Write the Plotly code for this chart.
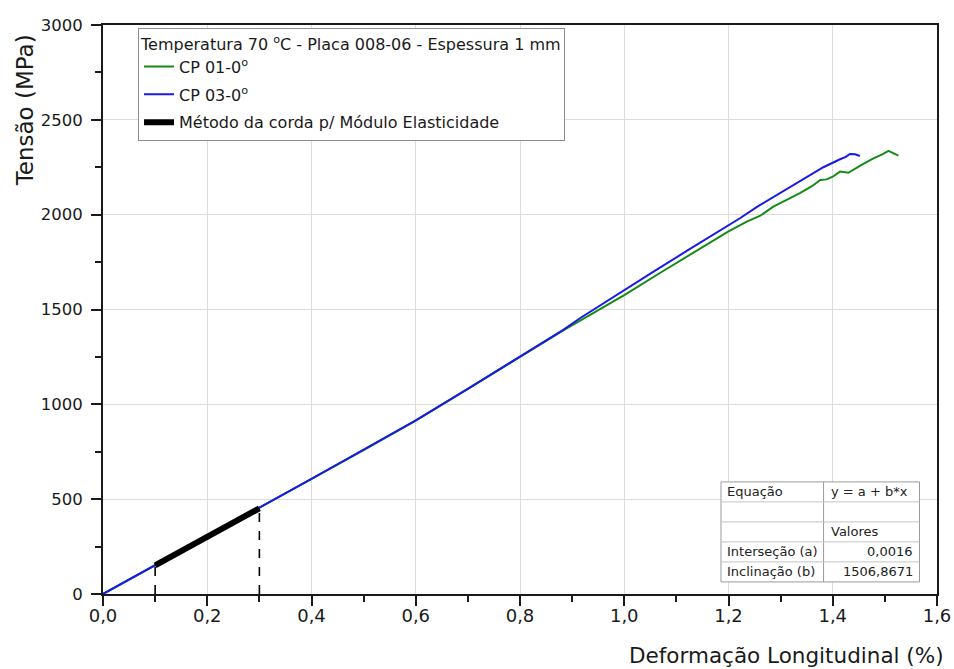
import plotly.graph_objects as go

# Stress-strain curves, 70 °C, plate 008-06, 1 mm thickness
cp01_strain = [0, 0.1, 0.2, 0.3, 0.4, 0.5, 0.6, 0.7, 0.8, 0.883, 0.95, 1.0, 1.07, 1.142,
               1.2, 1.235, 1.26, 1.286, 1.312, 1.337, 1.36, 1.376, 1.388, 1.40, 1.414,
               1.43, 1.452, 1.478, 1.495, 1.507, 1.526]
cp01_stress = [0, 151, 302, 454, 606, 759, 914, 1080, 1250, 1390, 1495, 1576, 1695, 1814,
               1912, 1963, 1993, 2042, 2077, 2113, 2150, 2183, 2186, 2200, 2227,
               2221, 2257, 2297, 2318, 2336, 2311]

cp03_strain = [0, 0.1, 0.2, 0.3, 0.4, 0.5, 0.6, 0.7, 0.8, 0.883, 0.915, 1.0, 1.06, 1.123,
               1.18, 1.222, 1.254, 1.286, 1.318, 1.35, 1.382, 1.414, 1.425, 1.433, 1.443,
               1.452]
cp03_stress = [0, 151, 302, 455, 607, 761, 916, 1082, 1252, 1393, 1454, 1599, 1706, 1814,
               1910, 1981, 2040, 2092, 2148, 2200, 2250, 2292, 2305, 2320, 2318,
               2309]

# Chord method for the elastic modulus: fit y = a + b*x between these strains
chord_strain = [0.1, 0.3]
fit_a = 0.0016
fit_b = 1506.8671
fit_a_text = "0,0016"
fit_b_text = "1506,8671"

legend_title = "Temperatura 70 <sup>o</sup>C - Placa 008-06 - Espessura 1 mm"
series_names = ["CP 01-0<sup>o</sup>", "CP 03-0<sup>o</sup>",
                "Método da corda p/ Módulo Elasticidade"]

x_title = "Deformação Longitudinal (%)"
y_title = "Tensão (MPa)"

table_rows = [
    ("Equação", "y = a + b*x"),
    ("", ""),
    ("", "Valores"),
    ("Interseção (a)", fit_a_text),
    ("Inclinação (b)", fit_b_text),
]

FONT = "DejaVu Sans"
chord_stress = [fit_a + fit_b * s for s in chord_strain]

fig = go.Figure()

fig.add_trace(go.Scatter(x=cp01_strain, y=cp01_stress, mode="lines",
                         name=series_names[0], legendgroup="g1",
                         line=dict(color="#168a16", width=2)))
fig.add_trace(go.Scatter(x=cp03_strain, y=cp03_stress, mode="lines",
                         name=series_names[1], legendgroup="g2",
                         line=dict(color="#1a1ae6", width=2)))
fig.add_trace(go.Scatter(x=chord_strain, y=chord_stress, mode="lines",
                         name=series_names[2], legendgroup="g3",
                         line=dict(color="black", width=6)))

# dashed drop lines from the chord ends to the strain axis
for s, v in zip(chord_strain, chord_stress):
    fig.add_trace(go.Scatter(x=[s, s], y=[0, v], mode="lines", showlegend=False,
                             hoverinfo="skip",
                             line=dict(color="black", width=1.6, dash="dash")))

axis_common = dict(
    showline=True, linecolor="#1a1a1a", linewidth=2, mirror=True,
    ticks="outside", ticklen=10, tickwidth=1.5, tickcolor="#1a1a1a",
    showgrid=True, gridcolor="#dcdcdc", gridwidth=1,
    zeroline=False, automargin=False,
)

fig.update_xaxes(range=[0, 1.6], dtick=0.2, tick0=0, tickformat=".1f",
                 minor=dict(dtick=0.1, ticklen=6, ticks="outside",
                            tickcolor="#1a1a1a", showgrid=False),
                 ticklabelstandoff=-6,
                 tickfont=dict(family=FONT, size=18, color="#1a1a1a"),
                 **axis_common)
fig.update_yaxes(range=[0, 3000], dtick=500, tick0=0, tickformat="d",
                 minor=dict(dtick=250, ticklen=6, ticks="outside",
                            tickcolor="#1a1a1a", showgrid=False),
                 ticklabelstandoff=5,
                 tickfont=dict(family=FONT, size=16.5, color="#1a1a1a"),
                 **axis_common)

annotations = [
    dict(text=x_title, xref="paper", yref="paper", x=1, y=0, xshift=9, yshift=-61,
         xanchor="right", yanchor="middle", showarrow=False,
         font=dict(family=FONT, size=21.5, color="#1a1a1a")),
    dict(text=y_title, xref="paper", yref="paper", x=-0.0935, y=0.85,
         xanchor="center", yanchor="middle", textangle=-90, showarrow=False,
         font=dict(family=FONT, size=23, color="#1a1a1a")),
]

# results table in the lower right corner of the plot area
tx0, tx1, tdiv = 0.741, 0.979, 0.864
ty_top, row_h = 0.197, 20 / 569
shapes = [dict(type="rect", xref="paper", yref="paper", x0=tx0, x1=tx1,
               y0=ty_top - row_h * len(table_rows), y1=ty_top,
               line=dict(color="#9a9a9a", width=1), fillcolor="white", layer="above")]
shapes.append(dict(type="line", xref="paper", yref="paper", x0=tdiv, x1=tdiv,
                   y0=ty_top - row_h * len(table_rows), y1=ty_top,
                   line=dict(color="#9a9a9a", width=1), layer="above"))
for i in range(1, len(table_rows)):
    shapes.append(dict(type="line", xref="paper", yref="paper", x0=tx0, x1=tx1,
                       y0=ty_top - row_h * i, y1=ty_top - row_h * i,
                       line=dict(color="#c4c4c4", width=1), layer="above"))

for i, (left, right) in enumerate(table_rows):
    yc = ty_top - row_h * (i + 0.5)
    if left:
        annotations.append(dict(text=left, xref="paper", yref="paper", x=tx0, xshift=4,
                                y=yc, xanchor="left", yanchor="middle", showarrow=False,
                                font=dict(family=FONT, size=13, color="#222")))
    if right:
        numeric = i >= 3
        annotations.append(dict(text=right, xref="paper", yref="paper",
                                x=tx1 if numeric else tdiv,
                                xshift=-4 if numeric else 5,
                                y=yc, xanchor="right" if numeric else "left",
                                yanchor="middle", showarrow=False,
                                font=dict(family=FONT, size=13, color="#222")))

fig.update_layout(
    width=954, height=669,
    margin=dict(l=103, r=17, t=25, b=75, autoexpand=False),
    paper_bgcolor="white", plot_bgcolor="white",
    separators=",.",
    font=dict(family=FONT, color="#1a1a1a"),
    showlegend=True,
    legend=dict(
        x=0.042, y=0.995, xanchor="left", yanchor="top",
        bgcolor="white", bordercolor="#8c8c8c", borderwidth=1,
        font=dict(family=FONT, size=16, color="#1a1a1a"),
        title=dict(text=legend_title, font=dict(family=FONT, size=16, color="#1a1a1a")),
        tracegroupgap=4,
    ),
    annotations=annotations,
    shapes=shapes,
)

fig.write_html("out.html")
